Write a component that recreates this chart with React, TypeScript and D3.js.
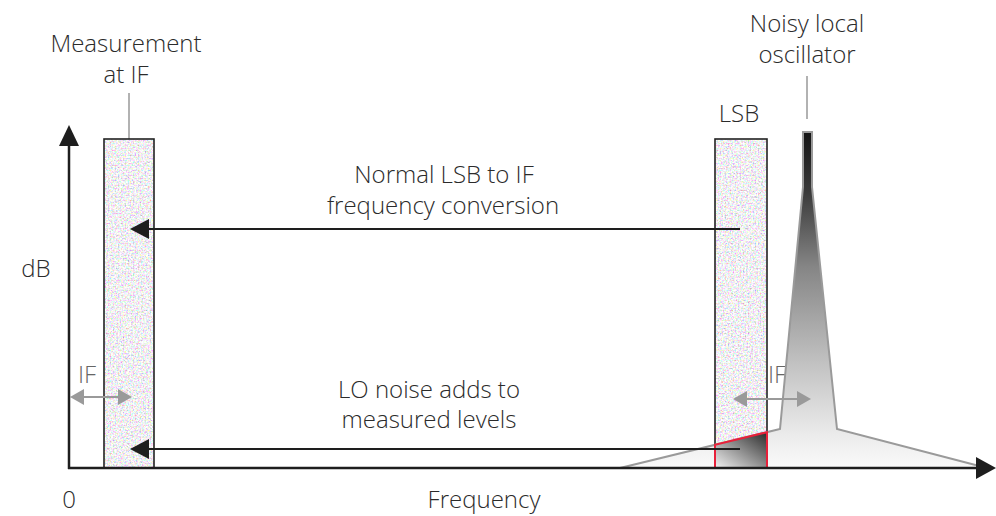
import React from 'react';
import * as d3 from 'd3';

// frequency units: 0 at the origin; level units: dB above the baseline
const barNames = ['Measurement at IF', 'LSB'];
const barStart = [35, 646];
const barEnd = [85, 698];
const barTop = [329, 329];

// noisy local oscillator outline (freq, level)
const loFreq = [551, 711, 734, 734, 743, 743, 768, 918];
const loLevel = [0, 39, 281, 336, 336, 281, 39, 0];

// conversion arrows (from LSB to IF)
const convLevel = [239, 19];
const convFrom = 671;
const convTo = 61;

// IF spacing arrows
const ifFrom = [1, 664];
const ifTo = [63, 742];
const ifLevel = [71, 69];

const W = 996;
const H = 516;
const FONT = "'Open Sans', Roboto, 'DejaVu Sans', sans-serif";

const App: React.FC = () => {
  const x = d3.scaleLinear().domain([0, 930]).range([69, 999]);
  const y = d3.scaleLinear().domain([0, 350]).range([468, 118]);

  const line = d3.line<[number, number]>().x((d) => x(d[0])).y((d) => y(d[1]));

  const loPts: [number, number][] = loFreq.map((f, i) => [f, loLevel[i]]);
  const loPath = line(loPts) + 'Z';

  // skirt level at a frequency (left skirt segment)
  const skirt = (f: number) => loLevel[1] * (f - loFreq[0]) / (loFreq[1] - loFreq[0]);
  const redPts: [number, number][] = [
    [barStart[1], 0],
    [barStart[1], skirt(barStart[1])],
    [barEnd[1], skirt(barEnd[1])],
    [barEnd[1], 0],
  ];
  const redPath = line(redPts) + 'Z';

  const textStyle: React.CSSProperties = { fontFamily: FONT, fontWeight: 300, fontSize: 24, fill: '#2b2b2b' };

  const axisY = y(0);
  const axisX = x(0);

  return (
    <svg width={W} height={H} style={{ position: 'absolute', left: 0, top: 0, background: '#fff' }}>
      <defs>
        <filter id="noise" x="0" y="0" width="100%" height="100%">
          <feTurbulence type="fractalNoise" baseFrequency="0.6" numOctaves="2" seed="3" result="t" />
          <feComponentTransfer in="t">
            <feFuncR type="linear" slope="1.6" intercept="0.1" />
            <feFuncG type="linear" slope="1.6" intercept="0.08" />
            <feFuncB type="linear" slope="1.6" intercept="0.12" />
            <feFuncA type="linear" slope="0" intercept="1" />
          </feComponentTransfer>
        </filter>
        <linearGradient id="loGrad" gradientUnits="userSpaceOnUse" x1="0" y1={y(336)} x2="0" y2={y(0)}>
          <stop offset="0" stopColor="#151515" />
          <stop offset="0.18" stopColor="#3a3a3a" />
          <stop offset="0.4" stopColor="#858585" />
          <stop offset="0.7" stopColor="#c4c4c4" />
          <stop offset="0.9" stopColor="#ebebeb" />
          <stop offset="1" stopColor="#fafafa" />
        </linearGradient>
        <linearGradient id="redGrad" x1="1" y1="0" x2="0" y2="1">
          <stop offset="0" stopColor="#2a2a2a" />
          <stop offset="1" stopColor="#f2f2f2" />
        </linearGradient>
      </defs>

      {/* label leader lines */}
      <line x1={x((barStart[0] + barEnd[0]) / 2)} x2={x((barStart[0] + barEnd[0]) / 2)} y1={93} y2={y(barTop[0])} stroke="#999" strokeWidth={1.5} />
      <line x1={807} x2={807} y1={76} y2={119} stroke="#999" strokeWidth={1.5} />

      {/* noise bands */}
      {barNames.map((n, i) => (
        <g key={n}>
          <rect
            x={x(barStart[i])}
            y={y(barTop[i])}
            width={x(barEnd[i]) - x(barStart[i])}
            height={y(0) - y(barTop[i])}
            filter="url(#noise)"
          />
          <rect
            x={x(barStart[i])}
            y={y(barTop[i])}
            width={x(barEnd[i]) - x(barStart[i])}
            height={y(0) - y(barTop[i])}
            fill="none"
            stroke="#222"
            strokeWidth={1.6}
          />
        </g>
      ))}

      {/* right IF text sits behind the LO shape */}
      <text x={777} y={383} textAnchor="middle" style={{ ...textStyle, fill: '#666' }}>IF</text>

      {/* local oscillator */}
      <path d={loPath} fill="url(#loGrad)" stroke="#9a9a9a" strokeWidth={2} strokeLinejoin="miter" />

      {/* overlap region */}
      <path d={redPath} fill="url(#redGrad)" stroke="#e8203a" strokeWidth={2} />

      {/* IF spacing arrows */}
      {ifFrom.map((f, i) => {
        const x0 = x(f), x1 = x(ifTo[i]), yy = y(ifLevel[i]);
        return (
          <g key={'if' + i} fill="#9a9a9a">
            <line x1={x0 + 12} x2={x1 - 12} y1={yy} y2={yy} stroke="#9a9a9a" strokeWidth={2} />
            <path d={`M${x0},${yy} L${x0 + 14},${yy - 8} L${x0 + 14},${yy + 8} Z`} />
            <path d={`M${x1},${yy} L${x1 - 14},${yy - 8} L${x1 - 14},${yy + 8} Z`} />
          </g>
        );
      })}

      {/* conversion arrows */}
      {convLevel.map((lv, i) => {
        const yy = y(lv);
        const x0 = x(convFrom), x1 = x(convTo);
        return (
          <g key={'c' + i}>
            <line x1={x0} x2={x1 + 15} y1={yy} y2={yy} stroke="#1e1e1e" strokeWidth={2} />
            <path d={`M${x1},${yy} L${x1 + 19},${yy - 10} L${x1 + 19},${yy + 10} Z`} fill="#1e1e1e" />
          </g>
        );
      })}

      {/* axes */}
      <line x1={axisX} x2={axisX} y1={axisY + 1} y2={140} stroke="#1e1e1e" strokeWidth={2.5} />
      <path d={`M${axisX},125 L${axisX - 10},146 L${axisX + 10},146 Z`} fill="#1e1e1e" />
      <line x1={axisX - 1} x2={980} y1={axisY} y2={axisY} stroke="#1e1e1e" strokeWidth={2.5} />
      <path d={`M996,${axisY} L976,${axisY - 11} L976,${axisY + 11} Z`} fill="#1e1e1e" />

      {/* texts */}
      <text x={126} y={52} textAnchor="middle" style={textStyle}>Measurement</text>
      <text x={126} y={83} textAnchor="middle" style={textStyle}>at IF</text>
      <text x={807} y={32} textAnchor="middle" style={textStyle}>Noisy local</text>
      <text x={807} y={63} textAnchor="middle" style={textStyle}>oscillator</text>
      <text x={739} y={122} textAnchor="middle" style={textStyle}>LSB</text>
      <text x={444} y={183} textAnchor="middle" style={textStyle}>Normal LSB to IF</text>
      <text x={443} y={214} textAnchor="middle" style={textStyle}>frequency conversion</text>
      <text x={429} y={398} textAnchor="middle" style={textStyle}>LO noise adds to</text>
      <text x={429} y={428} textAnchor="middle" style={textStyle}>measured levels</text>
      <text x={87} y={383} textAnchor="middle" style={{ ...textStyle, fill: '#666' }}>IF</text>
      <text x={36} y={277} textAnchor="middle" style={textStyle}>dB</text>
      <text x={69} y={508} textAnchor="middle" style={textStyle}>0</text>
      <text x={484} y={508} textAnchor="middle" style={textStyle}>Frequency</text>
    </svg>
  );
};

export default App;
